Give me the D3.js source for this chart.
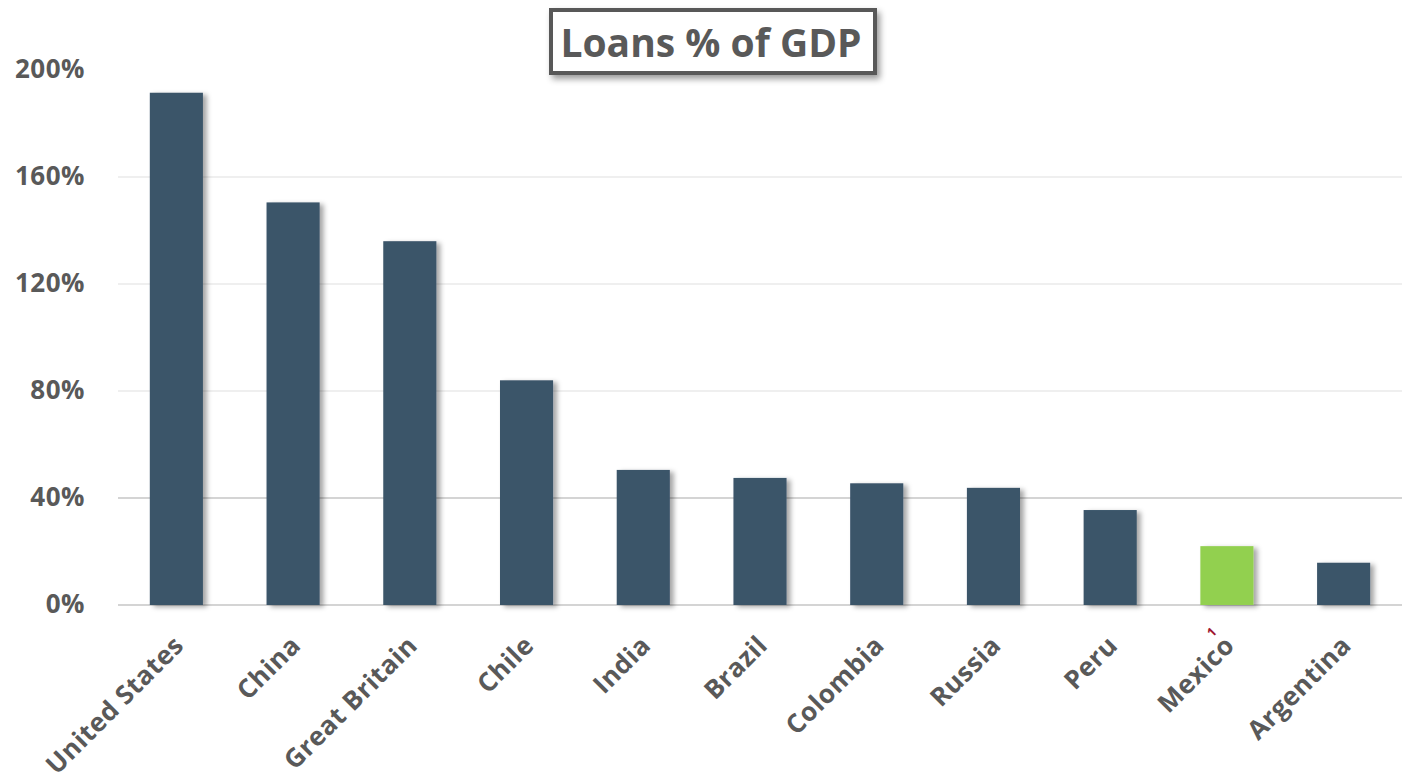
<!DOCTYPE html>
<html>
<head>
<meta charset="utf-8">
<script src="https://cdn.jsdelivr.net/npm/d3@7"></script>
<style>
  html, body { margin: 0; padding: 0; background: #fff; }
  svg { display: block; font-family: "Open Sans", sans-serif; }
</style>
</head>
<body>
<script>
// data
const countries = ['United States', 'China', 'Great Britain', 'Chile', 'India', 'Brazil',
    'Colombia', 'Russia', 'Peru', 'Mexico', 'Argentina'];
const loansPct = [191.5, 150.5, 136, 84, 50.5, 47.5, 45.5, 43.8, 35.5, 22, 15.8];
const highlighted = ['Mexico'];
const footnotes = { Mexico: '1' };
const yTicks = [0, 40, 80, 120, 160, 200];

const width = 1412,
    height = 780;

const margin = { top: 70, right: 10, bottom: 175, left: 118 };

const svg = d3.select('body')
    .append('svg')
    .attr('width', width)
    .attr('height', height);

const defs = svg.append('defs');

defs.append('filter')
    .attr('id', 'barShadow')
    .attr('x', '-20%').attr('y', '-10%')
    .attr('width', '150%').attr('height', '130%')
    .append('feDropShadow')
    .attr('dx', 4).attr('dy', 2)
    .attr('stdDeviation', 2.5)
    .attr('flood-color', '#000')
    .attr('flood-opacity', 0.35);

defs.append('filter')
    .attr('id', 'boxShadow')
    .attr('x', '-10%').attr('y', '-20%')
    .attr('width', '125%').attr('height', '160%')
    .append('feDropShadow')
    .attr('dx', 3).attr('dy', 4)
    .attr('stdDeviation', 3)
    .attr('flood-color', '#000')
    .attr('flood-opacity', 0.4);

const x = d3.scaleBand()
    .domain(countries)
    .range([margin.left, width - margin.right])
    .paddingInner(0.545)
    .paddingOuter(0.2725);

const y = d3.scaleLinear()
    .domain([0, 200])
    .range([height - margin.bottom, margin.top]);

// gridlines
svg.append('g')
    .selectAll('line')
    .data(yTicks.filter(d => d < 200))
    .enter()
    .append('line')
    .attr('x1', margin.left)
    .attr('x2', width - margin.right)
    .attr('y1', d => y(d))
    .attr('y2', d => y(d))
    .attr('stroke', d => d <= 40 ? '#d4d4d4' : '#efefef')
    .attr('stroke-width', 2);

// y tick labels
const yAxis = svg.append('g')
    .attr('transform', 'translate(85,0)')
    .call(d3.axisLeft(y).tickValues(yTicks).tickFormat(d => d + '%').tickSize(0).tickPadding(0));

yAxis.select('.domain').remove();
yAxis.selectAll('text')
    .attr('fill', '#595959')
    .style('font-size', '26px')
    .style('font-weight', 'bold')
    .style('letter-spacing', '0.5px')
    .style('font-family', '"Open Sans", sans-serif')
    .attr('dy', '0.3em');

// bars
svg.append('g')
    .selectAll('rect')
    .data(countries)
    .enter()
    .append('rect')
    .attr('x', d => x(d))
    .attr('y', (d, i) => y(loansPct[i]))
    .attr('width', x.bandwidth())
    .attr('height', (d, i) => y(0) - y(loansPct[i]))
    .attr('fill', d => highlighted.includes(d) ? '#92d050' : '#3b5469')
    .attr('filter', 'url(#barShadow)');

// x labels
const xLabels = svg.append('g')
    .selectAll('g')
    .data(countries)
    .enter()
    .append('g')
    .attr('transform', d => 'translate(' + (x(d) + x.bandwidth() / 2 + 9) + ',647) rotate(-45)');

xLabels.append('text')
    .attr('text-anchor', 'end')
    .attr('fill', '#595959')
    .style('font-size', '26px')
    .style('font-weight', 'bold')
    .style('letter-spacing', '0.5px')
    .text(d => d);

xLabels.filter(d => footnotes[d])
    .append('text')
    .attr('text-anchor', 'end')
    .attr('x', -3)
    .attr('y', -23)
    .attr('fill', '#a01830')
    .style('font-size', '13px')
    .style('font-weight', 'bold')
    .text(d => footnotes[d]);

// title box
const titleBox = svg.append('g');

titleBox.append('rect')
    .attr('x', 551)
    .attr('y', 10)
    .attr('width', 324)
    .attr('height', 63)
    .attr('fill', '#fff')
    .attr('stroke', '#595959')
    .attr('stroke-width', 4)
    .attr('filter', 'url(#boxShadow)');

titleBox.append('text')
    .attr('x', 711)
    .attr('y', 57)
    .attr('text-anchor', 'middle')
    .attr('fill', '#595959')
    .style('font-size', '39px')
    .style('font-weight', 'bold')
    .text('Loans % of GDP');
</script>
</body>
</html>
